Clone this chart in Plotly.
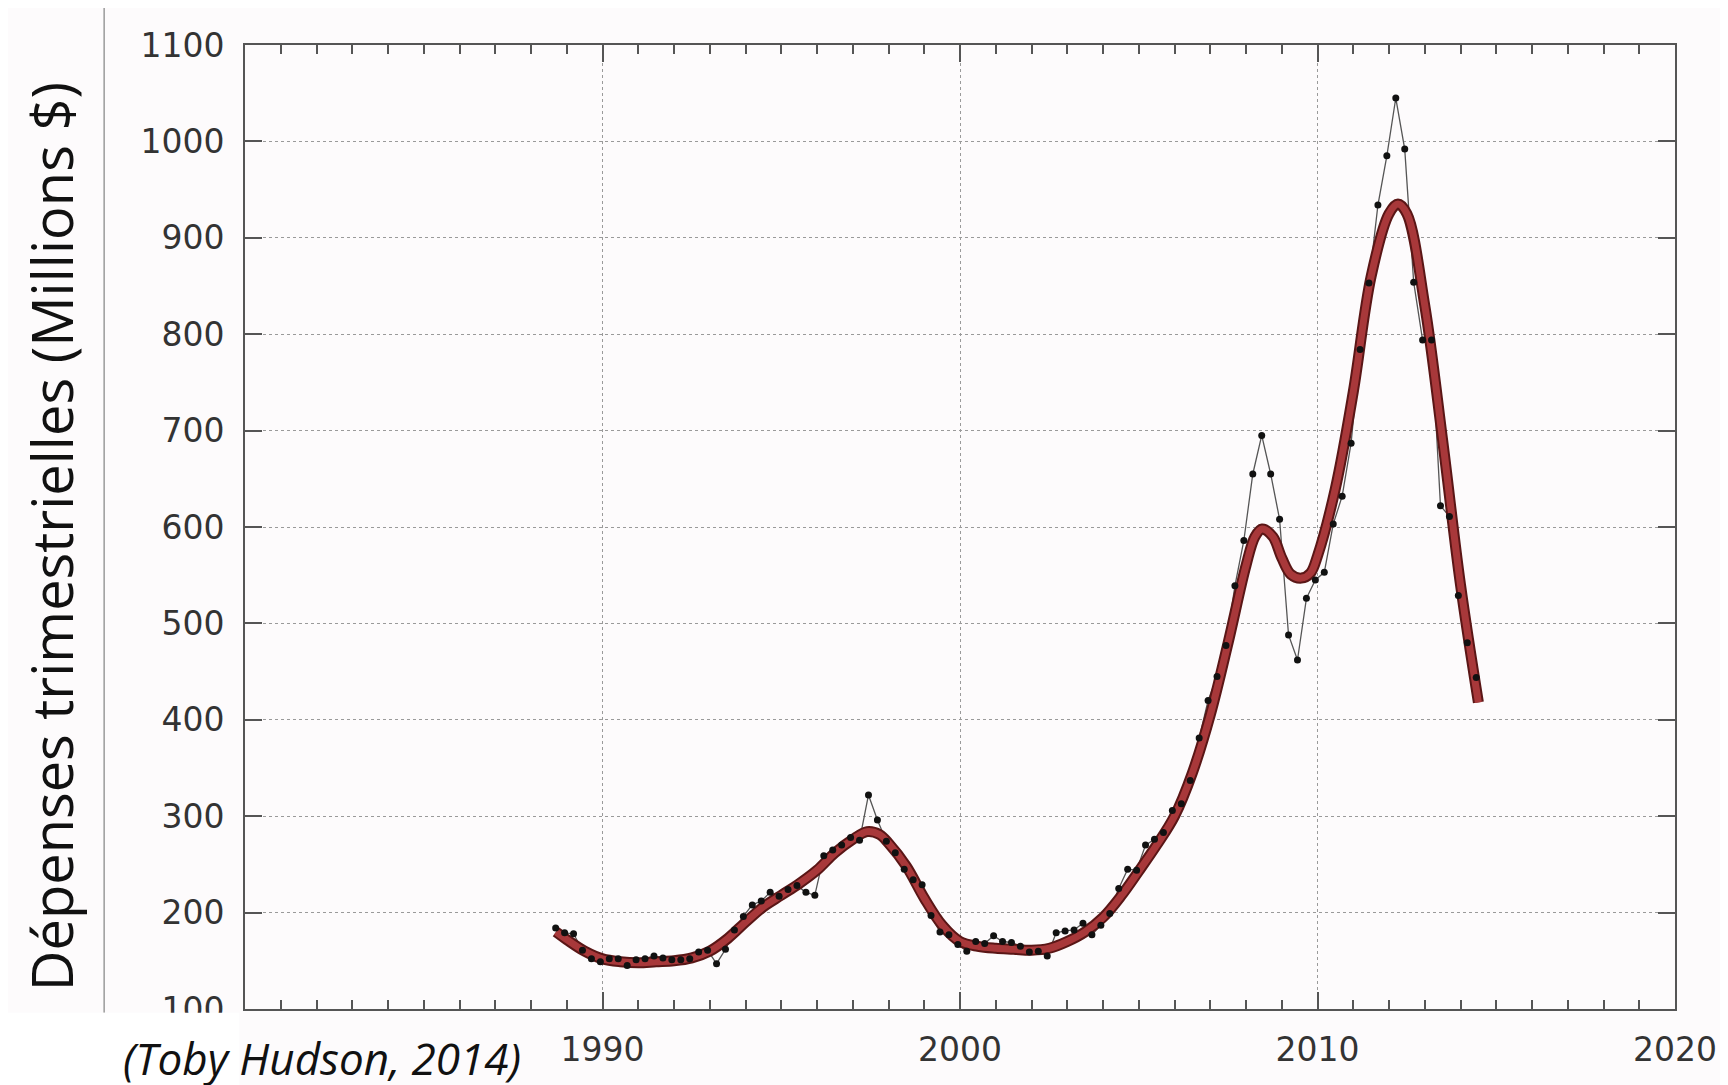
import plotly.graph_objects as go

# Quarterly observations (fractional year, millions $)
t0 = 1988.69
values = [184, 179, 178, 161, 152, 149, 152, 152, 145, 151,
          152, 155, 153, 151, 151, 152, 159, 161, 147, 162,
          182, 196, 208, 212, 221, 217, 224, 228, 221, 218,
          259, 265, 270, 278, 275, 322, 296, 274, 262, 245,
          234, 229, 197, 180, 177, 167, 160, 170, 168, 176,
          170, 169, 165, 159, 160, 155, 179, 181, 182, 189,
          177, 187, 199, 225, 245, 244, 270, 276, 283, 306,
          313, 337, 381, 420, 445, 477, 539, 586, 655, 695,
          655, 608, 488, 462, 526, 545, 553, 603, 632, 687,
          784, 853, 934, 985, 1045, 992, 854, 794, 794, 622,
          611, 529, 480, 444]
years = [round(t0 + 0.25 * i, 3) for i in range(len(values))]

# Smoothed trend
smooth_years = [1988.7, 1989.0, 1989.5, 1990.0, 1990.5, 1991.0, 1991.5, 1992.0, 1992.5, 1993.0,
                1993.5, 1994.0, 1994.5, 1995.0, 1995.5, 1996.0, 1996.5, 1997.0, 1997.4, 1997.75,
                1998.0, 1998.5, 1999.0, 1999.5, 2000.0, 2000.5, 2001.0, 2001.5, 2002.0, 2002.5,
                2003.0, 2003.5, 2004.0, 2004.5, 2005.0, 2005.5, 2006.0, 2006.5, 2007.0, 2007.5,
                2008.0, 2008.25, 2008.45, 2008.75, 2009.0, 2009.25, 2009.55, 2009.8, 2010.0, 2010.5,
                2011.0, 2011.5, 2012.0, 2012.25, 2012.5, 2013.0, 2013.5, 2014.0, 2014.5]
smooth_vals = [180, 172, 160, 152, 149, 148, 149, 150, 153, 160,
               173, 190, 206, 218, 230, 244, 262, 276, 284, 281,
               272, 248, 215, 187, 170, 165, 163, 162, 161, 163,
               170, 180, 195, 217, 243, 270, 300, 345, 405, 480,
               560, 590, 598, 590, 568, 551, 547, 552, 570, 640,
               740, 860, 925, 935, 925, 830, 690, 540, 418]

x_tickvals = [1990, 2000, 2010, 2020]
y_tickvals = [100, 200, 300, 400, 500, 600, 700, 800, 900, 1000, 1100]

fig = go.Figure()
fig.add_trace(go.Scatter(x=years, y=values, mode="lines",
                         line=dict(color="#555555", width=1.3), hoverinfo="skip"))
fig.add_trace(go.Scatter(x=smooth_years, y=smooth_vals, mode="lines",
                         line=dict(color="#5a1616", width=11, shape="spline", smoothing=1.0)))
fig.add_trace(go.Scatter(x=smooth_years, y=smooth_vals, mode="lines",
                         line=dict(color="#a8383a", width=7, shape="spline", smoothing=1.0)))
fig.add_trace(go.Scatter(x=years, y=values, mode="markers",
                         marker=dict(color="#111111", size=7)))

axis_common = dict(
    showline=True, linecolor="#555555", linewidth=2, mirror="allticks",
    ticks="inside", tickcolor="#555555", tickwidth=2, ticklen=17,
    showgrid=True, gridcolor="#9a9a9a", griddash="dot", gridwidth=1,
    zeroline=False,
    tickfont=dict(family="DejaVu Sans", size=33, color="#333333"),
)

fig.update_xaxes(range=[1980, 2020], tickmode="array", tickvals=x_tickvals,
                 ticklabelstandoff=10,
                 minor=dict(tick0=1980, dtick=1, ticks="inside", ticklen=9,
                            tickcolor="#555555", tickwidth=1.5, showgrid=False),
                 **axis_common)
fig.update_yaxes(range=[100, 1100], tickmode="array", tickvals=y_tickvals,
                 ticklabelstandoff=12, **axis_common)

fig.update_layout(
    width=1728, height=1085, autosize=False,
    margin=dict(l=237, r=61, t=37, b=84),
    paper_bgcolor="#fdfbfc", plot_bgcolor="#fdfbfc",
    showlegend=False,
    shapes=[
        # outer slide frame
        dict(type="line", xref="paper", yref="paper", x0=-0.0985, x1=-0.0985, y0=1.0407, y1=-0.004,
             line=dict(color="#9a9a9a", width=1.5), layer="above"),
        dict(type="line", xref="paper", yref="paper", x0=-0.0985, x1=1.06, y0=1.0407, y1=1.0407,
             line=dict(color="#9a9a9a", width=1.5), layer="above"),
        # bottom band that crops the lowest tick label
        dict(type="rect", xref="paper", yref="paper", x0=-0.2, x1=-0.004, y0=-0.004, y1=-0.08,
             fillcolor="#ffffff", line=dict(width=0), layer="above"),
    ],
    annotations=[
        dict(text="Dépenses trimestrielles (Millions $)", xref="paper", yref="paper",
             x=-0.136, y=0.49, textangle=-90, showarrow=False, xanchor="center", yanchor="middle",
             font=dict(family="Open Sans", size=56, color="#111111")),
        dict(text="<i>(Toby Hudson, 2014)</i>", xref="paper", yref="paper",
             x=-0.0865, y=-0.0505, showarrow=False, xanchor="left", yanchor="middle",
             font=dict(family="Open Sans", size=44, color="#111111")),
    ],
)

fig.write_html("out.html")
